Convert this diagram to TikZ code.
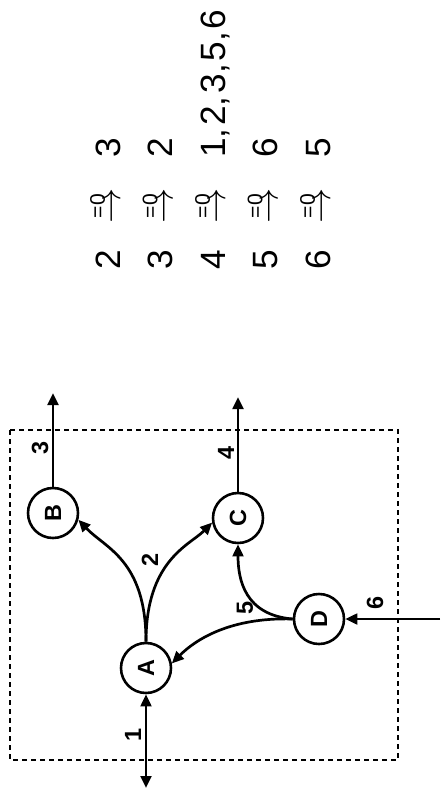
\RequirePackage{fix-cm}
\documentclass[tikz,border=0pt]{standalone}
\usepackage{fontspec}
\setmainfont{Liberation Sans}
\usepackage{graphicx}
\usetikzlibrary{arrows.meta}

\begin{document}
\begin{tikzpicture}[
    x=0.03cm, y=0.03cm,
    state_node/.style={circle, draw, line width=2.2pt, minimum size=1.5cm, inner sep=0pt, font=\fontsize{20}{22}\selectfont\bfseries},
    flow/.style={-{Triangle[length=3.6mm,width=3.2mm]}, line width=2.3pt},
    flow_label/.style={rotate=90, font=\fontsize{20}{22}\selectfont\bfseries},
    rule_text/.style={rotate=90, inner sep=0pt, font=\fontsize{30}{32}\selectfont},
    boundary/.style={dash pattern=on 1.5mm off 1.2mm, line width=1.8pt}
]
    \useasboundingbox (0,0) rectangle (440,-807);

    % update rules
    \node[rule_text, anchor=base] (p2) at (120,-260) {2};
    \node[rule_text, anchor=base] (s2) at (120,-206) {$\stackrel{\mbox{\fontsize{18}{18}\selectfont =0}}{\rightarrow}$};
    \node[rule_text, anchor=base west] (q2) at (120,-158) {3};
    \node[rule_text, anchor=base] (p3) at (172.5,-260) {3};
    \node[rule_text, anchor=base] (s3) at (172.5,-206) {$\stackrel{\mbox{\fontsize{18}{18}\selectfont =0}}{\rightarrow}$};
    \node[rule_text, anchor=base west] (q3) at (172.5,-158) {2};
    \node[rule_text, anchor=base] (p4) at (225,-260) {4};
    \node[rule_text, anchor=base] (s4) at (225,-206) {$\stackrel{\mbox{\fontsize{18}{18}\selectfont =0}}{\rightarrow}$};
    \node[rule_text, anchor=base west] (q4) at (225,-158) {1,\kern.08em 2,\kern.08em 3,\kern.08em 5,\kern.08em 6};
    \node[rule_text, anchor=base] (p5) at (277.5,-260) {5};
    \node[rule_text, anchor=base] (s5) at (277.5,-206) {$\stackrel{\mbox{\fontsize{18}{18}\selectfont =0}}{\rightarrow}$};
    \node[rule_text, anchor=base west] (q5) at (277.5,-158) {6};
    \node[rule_text, anchor=base] (p6) at (330,-260) {6};
    \node[rule_text, anchor=base] (s6) at (330,-206) {$\stackrel{\mbox{\fontsize{18}{18}\selectfont =0}}{\rightarrow}$};
    \node[rule_text, anchor=base west] (q6) at (330,-158) {5};

    % network
    \draw[boundary] (10,-430) rectangle (398,-760);
    \node[state_node] (A) at (146,-668) {\rotatebox{90}{A}};
    \node[state_node] (B) at (53,-513) {\rotatebox{90}{B}};
    \node[state_node] (C) at (238,-518) {\rotatebox{90}{C}};
    \node[state_node] (D) at (319,-619) {\rotatebox{90}{D}};
    \coordinate (in1) at (146,-788);
    \coordinate (in6) at (440,-619);
    \coordinate (out3) at (53,-393);
    \coordinate (out4) at (238,-397);

    \draw[flow, {Triangle[length=3.6mm,width=3.2mm]}-{Triangle[length=3.6mm,width=3.2mm]}] (in1) -- (A);
    \draw[flow] (in6) -- (D);
    \draw[flow] (B) -- (out3);
    \draw[flow] (C) -- (out4);
    \draw[flow] (A.north) .. controls (146,-560) and (105,-548) .. (B.-15);
    \draw[flow] (A.north) .. controls (146,-560) and (190,-545) .. (C.190);
    \draw[flow] (D.west) .. controls (230,-617) and (195,-640) .. (A.10);
    \draw[flow] (D.west) .. controls (245,-615) and (238,-580) .. (C.south);

    \node[flow_label] (l1) at (133,-735) {1};
    \node[flow_label] (l2) at (150,-560) {2};
    \node[flow_label] (l3) at (40,-448) {3};
    \node[flow_label] (l4) at (226,-453) {4};
    \node[flow_label] (l5) at (245,-608) {5};
    \node[flow_label] (l6) at (375,-603) {6};
\end{tikzpicture}
\end{document}
